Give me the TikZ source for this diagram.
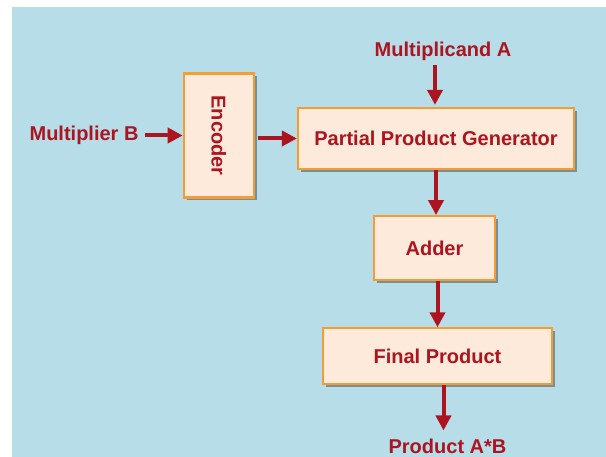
\documentclass[tikz,border=0pt]{standalone}
\usepackage{fontspec}
\setmainfont{Liberation Sans}
\usepackage{xcolor}
\usetikzlibrary{positioning, arrows.meta, shadows}

\definecolor{bgblue}{RGB}{183,221,232}
\definecolor{boxfill}{RGB}{253,234,218}
\definecolor{boxline}{RGB}{243,158,52}
\definecolor{txtred}{RGB}{172,20,32}

\begin{document}
\begin{tikzpicture}[
  x=1pt, y=-1pt,
  blk/.style={draw=boxline, line width=2.2pt, fill=boxfill, inner sep=0pt,
    text=txtred, font=\fontsize{20}{24}\selectfont\bfseries,
    drop shadow={shadow xshift=3pt, shadow yshift=-3pt, fill=black, opacity=0.35}},
  lbl/.style={inner sep=0pt, text=txtred, font=\fontsize{20}{24}\selectfont\bfseries},
  arr/.style={-{Triangle[length=15pt, width=15pt]}, line width=4pt, draw=txtred},
]

% background
\useasboundingbox (0,0) rectangle (606,457);
\fill[bgblue] (12,7) rectangle (606,457);

% === BLOCKS ===
\node[blk, minimum width=276pt, minimum height=61pt] (ppg) at (436,138.5) {Partial Product Generator};
\node[blk, minimum width=70pt, minimum height=124pt, left=42pt of ppg, yshift=3pt] (enc) {\rotatebox{-90}{Encoder}};
\node[blk, minimum width=121pt, minimum height=64pt, below=45pt of ppg, xshift=-1.5pt] (adder) {Adder};
\node[blk, minimum width=229pt, minimum height=56pt, below=46pt of adder, xshift=3pt] (final) {Final Product};

% === LABELS ===
\node[lbl, above=46pt of ppg, xshift=7pt] (mula) {Multiplicand A};
\node[lbl, left=44pt of enc] (mulb) {Multiplier B};
\node[lbl, below=53pt of final, xshift=10pt] (prod) {Product A*B};

% === ARROWS ===
\draw[arr, shorten <=4pt, shorten >=2pt] ([xshift=-8pt]mula.south) -- ([xshift=-8pt]mula.south |- ppg.north);
\draw[arr, shorten <=6pt] (mulb) -- (enc);
\draw[arr, shorten <=3pt] (enc.east |- ppg) -- (ppg);
\draw[arr] (ppg) -- (ppg |- adder.north);
\draw[arr] ([xshift=3pt]adder.south) -- ([xshift=3pt]adder.south |- final.north);
\draw[arr, shorten >=8pt] ([xshift=6pt]final.south) -- ([xshift=6pt]final.south |- prod.north);

\end{tikzpicture}
\end{document}
